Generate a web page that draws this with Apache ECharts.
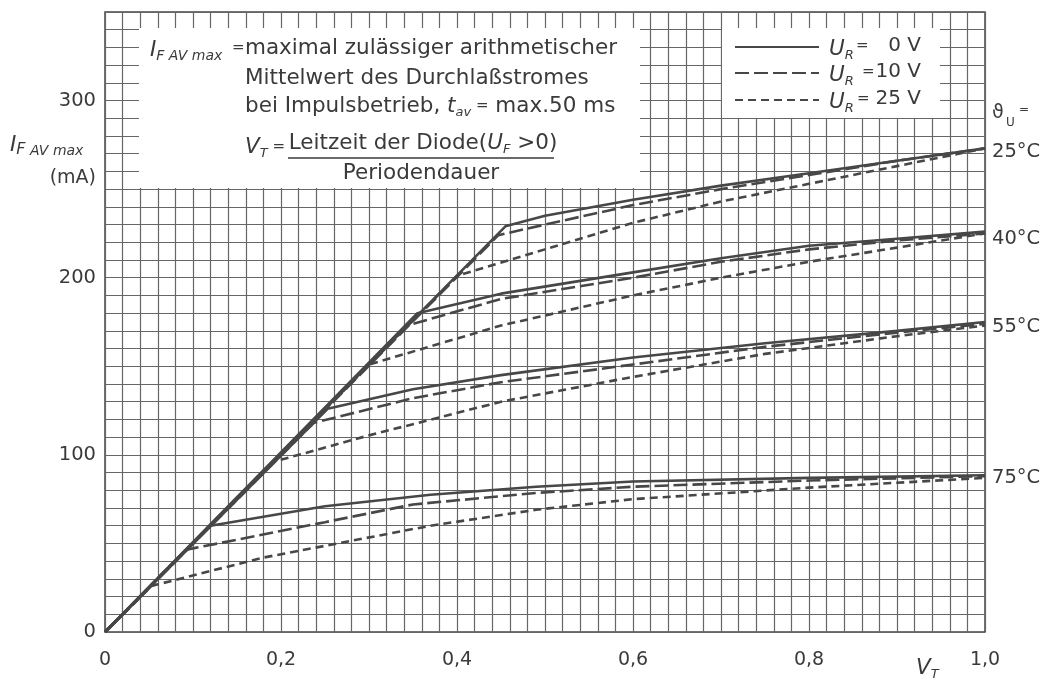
<!DOCTYPE html>
<html>
<head>
<meta charset="utf-8">
<script src="https://cdn.jsdelivr.net/npm/echarts@6/dist/echarts.min.js"></script>
<style>html,body{margin:0;padding:0;background:#fff;}#c{width:1050px;height:682px;}</style>
</head>
<body>
<div id="c"></div>
<script>
// Tick labels
const xTickLabels = ['0', '0,2', '0,4', '0,6', '0,8', '1,0'];
const yTickLabels = ['0', '100', '200', '300'];
const tempLabels = ['25°C', '40°C', '55°C', '75°C'];
const legendLabels = ['0 V', '10 V', '25 V'];

// 25 °C
const vt25_0 = [0, 0.455, 0.5, 0.6, 0.7, 0.8, 0.9, 1.0];
const if25_0 = [0, 229, 235, 244, 252, 259, 266, 273];
const vt25_10 = [0, 0.447, 0.5, 0.6, 0.7, 0.8, 0.9, 1.0];
const if25_10 = [0, 224, 230, 241, 250, 258, 266, 273];
const vt25_25 = [0, 0.40, 0.5, 0.6, 0.7, 0.8, 0.9, 1.0];
const if25_25 = [0, 201, 216, 231, 243, 253, 263, 273];
// 40 °C
const vt40_0 = [0, 0.355, 0.45, 0.6, 0.7, 0.8, 0.9, 1.0];
const if40_0 = [0, 180, 191, 203, 211, 218, 222, 226];
const vt40_10 = [0, 0.343, 0.45, 0.6, 0.7, 0.8, 0.9, 1.0];
const if40_10 = [0, 173, 188, 200, 209, 216, 221, 225];
const vt40_25 = [0, 0.30, 0.45, 0.6, 0.7, 0.8, 0.9, 1.0];
const if40_25 = [0, 151, 173, 190, 200, 209, 217, 225];
// 55 °C
const vt55_0 = [0, 0.253, 0.35, 0.45, 0.6, 0.75, 0.9, 1.0];
const if55_0 = [0, 126, 137, 145, 155, 163, 170, 175];
const vt55_10 = [0, 0.237, 0.35, 0.45, 0.6, 0.75, 0.9, 1.0];
const if55_10 = [0, 118, 132, 141, 151, 161, 169, 174];
const vt55_25 = [0, 0.191, 0.3, 0.45, 0.6, 0.75, 0.9, 1.0];
const if55_25 = [0, 96, 111, 130, 144, 157, 167, 173];
// 75 °C
const vt75_0 = [0, 0.12, 0.25, 0.37, 0.49, 0.6, 0.8, 1.0];
const if75_0 = [0, 60, 71, 77.5, 82, 85, 87, 88.5];
const vt75_10 = [0, 0.093, 0.25, 0.35, 0.49, 0.6, 0.8, 1.0];
const if75_10 = [0, 46.5, 62, 72, 78.5, 82, 85.5, 88];
const vt75_25 = [0, 0.053, 0.18, 0.37, 0.49, 0.6, 0.8, 1.0];
const if75_25 = [0, 26, 42, 60, 69, 75, 81.5, 87];

const zip = (xs, ys) => xs.map((x, i) => [x, ys[i]]);
const LINE = '#474747';
const DASH = {'0': 'solid', '10': [14, 5], '25': [8, 5]};
const curves = [
  ['25', '0', vt25_0, if25_0], ['25', '10', vt25_10, if25_10], ['25', '25', vt25_25, if25_25],
  ['40', '0', vt40_0, if40_0], ['40', '10', vt40_10, if40_10], ['40', '25', vt40_25, if40_25],
  ['55', '0', vt55_0, if55_0], ['55', '10', vt55_10, if55_10], ['55', '25', vt55_25, if55_25],
  ['75', '0', vt75_0, if75_0], ['75', '10', vt75_10, if75_10], ['75', '25', vt75_25, if75_25]
];
const FONT = 'DejaVu Sans';
const TXT = '#3a3a3a';

const series = curves.map(c => ({
  type: 'line', name: c[0] + '°C ' + c[1] + 'V',
  data: zip(c[2], c[3]), showSymbol: false, symbol: 'none',
  lineStyle: {color: LINE, width: 2.6, type: DASH[c[1]]},
  z: 3, silent: true, animation: false
}));

const chart = echarts.init(document.getElementById('c'), null, {renderer: 'canvas'});

const BIG = 21.5;
const RICH = {
  n: {fontSize: BIG, fontFamily: FONT, color: TXT, lineHeight: 26, verticalAlign: 'middle'},
  it: {fontSize: BIG, fontFamily: FONT, color: TXT, fontStyle: 'italic', lineHeight: 26, verticalAlign: 'middle'},
  sub: {fontSize: 13, fontFamily: FONT, color: TXT, fontStyle: 'italic', lineHeight: 13, verticalAlign: 'bottom'},
  sub2: {fontSize: 14, fontFamily: FONT, color: TXT, fontStyle: 'italic', lineHeight: 14, verticalAlign: 'bottom'},
  eq: {fontSize: 15, fontFamily: FONT, color: TXT, lineHeight: 26, verticalAlign: 'middle'},
  f: {fontSize: 16, fontFamily: FONT, color: TXT, fontStyle: 'italic', lineHeight: 16, verticalAlign: 'bottom'},
  s: {fontSize: 14, fontFamily: FONT, color: TXT, fontStyle: 'italic', lineHeight: 14, verticalAlign: 'bottom'}
};

function t(x, y, text, size, opts) {
  return {type: 'text', x: x, y: y, z: 20, style: Object.assign({
    text: text, fontSize: size, fontFamily: FONT, fill: TXT,
    verticalAlign: 'middle', align: 'left', rich: RICH
  }, opts || {})};
}

const graphics = [
  // text box
  {type: 'rect', shape: {x: 139, y: 28, width: 501, height: 160}, style: {fill: '#fff'}, z: 10},
  t(150, 50, '{it|I}{sub2|F AV max}', BIG),
  t(232, 48, '{eq|=}', 15),
  t(245, 48, 'maximal zulässiger arithmetischer', BIG),
  t(245, 78, 'Mittelwert des Durchlaßstromes', BIG),
  t(245, 106, '{n|bei Impulsbetrieb, }{it|t}{sub|av}{eq| =} {n|max.50 ms}', BIG),
  t(245, 147, '{it|V}{sub|T}{eq| =}', BIG),
  t(423, 143, '{n|Leitzeit der Diode(}{it|U}{sub|F}{n| >0)}', BIG, {align: 'center'}),
  {type: 'line', shape: {x1: 288, y1: 158, x2: 554, y2: 158}, style: {stroke: TXT, lineWidth: 1.6}, z: 20},
  t(421, 173, 'Periodendauer', BIG, {align: 'center'}),
  // legend box
  {type: 'rect', shape: {x: 722, y: 28, width: 218, height: 90}, style: {fill: '#fff'}, z: 10},
  {type: 'line', shape: {x1: 735, y1: 47, x2: 819, y2: 47}, style: {stroke: LINE, lineWidth: 2}, z: 20},
  {type: 'line', shape: {x1: 735, y1: 73, x2: 819, y2: 73}, style: {stroke: LINE, lineWidth: 2, lineDash: [14, 5]}, z: 20},
  {type: 'line', shape: {x1: 735, y1: 100, x2: 819, y2: 100}, style: {stroke: LINE, lineWidth: 2, lineDash: [8, 5]}, z: 20},
  t(829, 49, '{it|U}{sub|R}', 20),
  t(856, 46, '{eq|=}', 14),
  t(921, 46, legendLabels[0], 20, {align: 'right'}),
  t(829, 75, '{it|U}{sub|R}', 20),
  t(862, 72, '{eq|=}', 14),
  t(921, 72, legendLabels[1], 20, {align: 'right'}),
  t(829, 102, '{it|U}{sub|R}', 20),
  t(857, 99, '{eq|=}', 16),
  t(921, 99, legendLabels[2], 20, {align: 'right'}),
  // temperature labels
  t(992, 113, 'ϑ', 19),
  t(1006, 123, 'U', 12),
  t(1019, 110, '=', 12),
  t(992, 152, tempLabels[0], 19.5),
  t(992, 239, tempLabels[1], 19.5),
  t(992, 327, tempLabels[2], 19.5),
  t(992, 478, tempLabels[3], 19.5),
  // y axis name
  t(10, 145, '{it|I}{f|F}{s| AV max}', 19),
  t(96, 178, '(mA)', 19, {align: 'right'}),
  // x axis name
  t(916, 668, '{it|V}{sub|T}', 19)
];

const option = {
  backgroundColor: '#fff',
  animation: false,
  grid: {left: 105, right: 65, top: 12, bottom: 50, show: true, borderColor: '#444', borderWidth: 1.5, backgroundColor: 'transparent'},
  xAxis: {
    type: 'value', min: 0, max: 1.0, interval: 0.02,
    axisLine: {show: false}, axisTick: {show: false},
    splitLine: {show: true, lineStyle: {color: '#666', width: 1.2}},
    axisLabel: {
      color: TXT, fontFamily: FONT, fontSize: 19, margin: 19,
      formatter: function (v) {
        const k = Math.round(v * 5);
        if (Math.abs(v * 5 - k) < 1e-6) return xTickLabels[k];
        return '';
      }
    }
  },
  yAxis: {
    type: 'value', min: 0, max: 350, interval: 10,
    axisLine: {show: false}, axisTick: {show: false},
    splitLine: {show: true, lineStyle: {color: '#666', width: 1.2}},
    axisLabel: {
      color: TXT, fontFamily: FONT, fontSize: 19.5, margin: 9,
      formatter: function (v) {
        if (v % 100 === 0) return yTickLabels[v / 100];
        return '';
      }
    }
  },
  graphic: graphics,
  series: series
};
chart.setOption(option);
</script>
</body>
</html>
